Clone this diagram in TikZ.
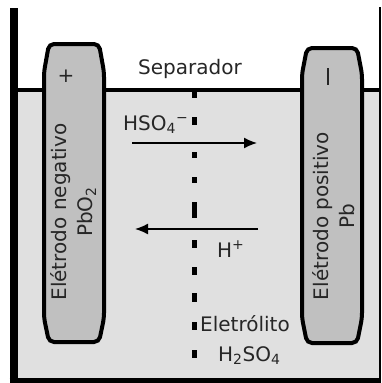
\documentclass[tikz,border=0pt]{standalone}
\usepackage{fontspec}
\setmainfont{DejaVu Sans}
\usepackage{tikz}
\usetikzlibrary{arrows.meta}
\usepackage{xcolor}
\definecolor{liquidgray}{RGB}{224,224,224}
\definecolor{plategray}{RGB}{192,192,192}

\begin{document}
\begin{tikzpicture}[x=1pt, y=-1pt, >={Latex[length=13pt,width=11pt]}, font=\fontsize{20}{26}\selectfont]
    \tikzstyle{plate} = [draw, line width=4pt, fill=plategray, rounded corners=5pt]
    \tikzstyle{txt} = [inner sep=0pt, text=black!85]
    \tikzstyle{flow} = [->, line width=1.5pt]

    \useasboundingbox (0,0) rectangle (381,383);

    % electrolyte and tank
    \fill[liquidgray] (18,90) rectangle (380,378);
    \draw[line width=4pt] (13,90) -- (380,90);
    \draw[line width=8pt] (13.5,8) -- (13.5,380);
    \draw[line width=5pt] (9.5,380.5) -- (381,380.5);
    \draw[line width=1.5pt] (380,7) -- (380,380);

    % separator
    \foreach \y/\h in {94/8, 121/8, 155/6, 180/6, 210/16, 244/8, 271/8, 297/9, 326/8, 354/8}
      \fill (192,{\y-\h/2}) rectangle (197,{\y+\h/2});
    \node [txt, anchor=base] (sep) at (190,74) {Separador};

    % electrodes
    \draw[plate] (44,200) -- (44,72) -- (49,44) -- (99,44) -- (104,72) -- (104,318) -- (99,342) -- (49,342) -- (44,318) -- cycle;
    \draw[plate] (302,200) -- (302,74) -- (307,48) -- (357,48) -- (362,74) -- (362,318) -- (357,343) -- (307,343) -- (302,318) -- cycle;
    \node [txt, rotate=90, align=center] (neg) at (73.5,212) {Elétrodo negativo\\PbO\textsubscript{2}};
    \node [txt, rotate=90, align=center] (pos) at (333.5,216) {Elétrodo positivo\\Pb};
    \node [txt] (plus) at (66,76) {+};
    \node [txt, rotate=90] (minus) at (328,76) {\rule{17pt}{1.6pt}};

    % ions
    \node [txt, anchor=base west] (hso) at (123,130) {HSO\textsubscript{4}\textsuperscript{−}};
    \node [txt, anchor=base west] (hplus) at (217,257) {H\textsuperscript{+}};
    \coordinate (hso-a) at (132,143);
    \coordinate (hso-b) at (257,143);
    \coordinate (hplus-a) at (258,229);
    \coordinate (hplus-b) at (135,229);
    \draw[flow] (hso-a) -- (hso-b);
    \draw[flow] (hplus-a) -- (hplus-b);

    % electrolyte
    \node [txt, anchor=base west] (elet) at (200,331) {Eletrólito};
    \node [txt, anchor=base west] (acid) at (218,361) {H\textsubscript{2}SO\textsubscript{4}};
\end{tikzpicture}
\end{document}
